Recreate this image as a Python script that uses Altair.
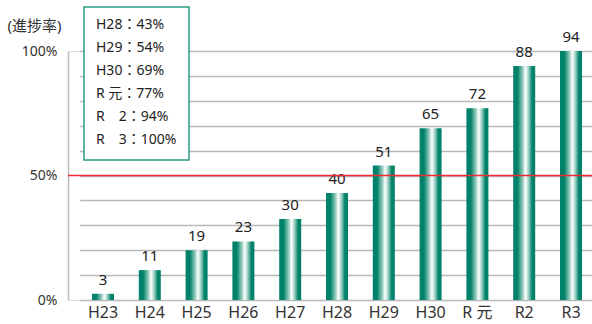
import altair as alt
import pandas as pd

# Fiscal years, counts shown above the bars, and progress rate (%) for bar heights
years = ["H23", "H24", "H25", "H26", "H27", "H28", "H29", "H30", "R 元", "R2", "R3"]
counts = [3, 11, 19, 23, 30, 40, 51, 65, 72, 88, 94]
rates = [2.5, 12, 20, 23.5, 32.5, 43, 54, 69, 77, 94, 100]

# Lines listed in the inset box
box_lines = ["H28：43%", "H29：54%", "H30：69%", "R 元：77%", "R　2：94%", "R　3：100%"]

target = [50]

FONT = "Noto Sans, Noto Sans CJK JP"
TEAL = "#00826a"

df = pd.DataFrame({"year": years, "count": counts, "rate": rates})

x_scale = alt.Scale(range=[11.6, 526.4], paddingInner=0, paddingOuter=0)
x_axis = alt.Axis(
    title=None, domain=False, ticks=False, labelAngle=0,
    labelFont=FONT, labelFontSize=16, labelColor="#333333", labelPadding=4,
)

y_scale = alt.Scale(domain=[0, 100], nice=False)
y_axis = alt.Axis(
    values=list(range(0, 101, 10)),
    labelExpr="datum.value % 50 == 0 ? datum.value + '%' : ''",
    labelOverlap=False, labelBound=False,
    grid=True, gridColor="#b8b8b8", gridWidth=1.4,
    domain=True, domainColor="#b8b8b8", domainWidth=1.4,
    ticks=False, labelPadding=11,
    labelFont=FONT, labelFontSize=14, labelColor="#333333",
    title="(進捗率)", titleAngle=0, titleFont=FONT, titleFontSize=15,
    titleFontWeight="normal", titleColor="#333333",
    titleX=-61, titleY=-26, titleAlign="left", titleBaseline="middle",
)

bar_gradient = alt.Gradient(
    gradient="linear", x1=0, x2=1, y1=0, y2=0,
    stops=[
        alt.GradientStop(color=TEAL, offset=0),
        alt.GradientStop(color=TEAL, offset=0.2),
        alt.GradientStop(color="#8cc8b8", offset=0.42),
        alt.GradientStop(color="#ffffff", offset=0.56),
        alt.GradientStop(color="#9ad0c2", offset=0.7),
        alt.GradientStop(color=TEAL, offset=0.86),
        alt.GradientStop(color=TEAL, offset=1),
    ],
)

base = alt.Chart(df).encode(
    x=alt.X("year:N", sort=years, scale=x_scale, axis=x_axis),
    y=alt.Y("rate:Q", scale=y_scale, axis=y_axis),
)

bars = base.mark_bar(width=22, color=bar_gradient)

labels = base.mark_text(
    font=FONT, fontSize=15, color="#222222", baseline="alphabetic", dy=-9
).encode(text="count:Q")

red_line = alt.Chart(pd.DataFrame({"v": target})).mark_rule(
    color="#ee2a36", strokeWidth=1.3
).encode(y=alt.Y("v:Q", scale=y_scale, axis=y_axis))

box = alt.Chart(pd.DataFrame({"k": [0]})).mark_rect(
    fill="white", stroke="#2e9a82", strokeWidth=1.5
).encode(
    x=alt.value(16), x2=alt.value(121), y=alt.value(-44), y2=alt.value(109)
)

box_text = alt.Chart(pd.DataFrame({"k": [0]})).mark_text(
    text=box_lines, font=FONT, fontSize=14, color="#222222",
    align="left", baseline="middle", lineHeight=23,
).encode(x=alt.value(28), y=alt.value(-26))

chart = alt.layer(bars, labels, red_line, box, box_text).properties(
    width=524,
    height=249,
    autosize=alt.AutoSizeParams(type="none"),
    padding={"left": 68, "top": 51, "right": 0, "bottom": 24},
).configure_view(stroke=None).configure(background="white")

chart.save("out.html", embed_options={"renderer": "svg", "actions": False})
